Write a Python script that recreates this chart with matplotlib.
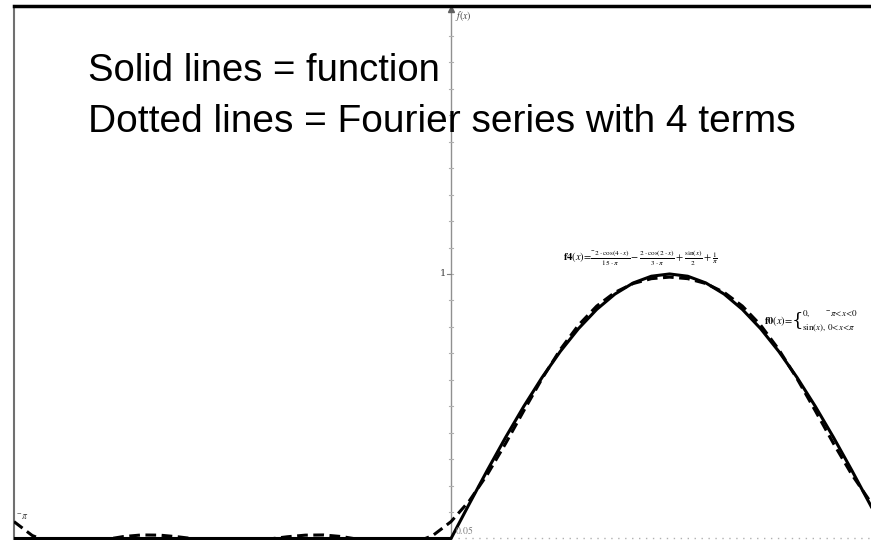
import matplotlib
matplotlib.use('Agg')
import matplotlib.pyplot as plt
import numpy as np

# x samples in radians (steps of pi/24), -pi .. pi
x_vals = [-3.1416, -3.0107, -2.8798, -2.7489, -2.6180, -2.4871, -2.3562, -2.2253,
          -2.0944, -1.9635, -1.8326, -1.7017, -1.5708, -1.4399, -1.3090, -1.1781,
          -1.0472, -0.9163, -0.7854, -0.6545, -0.5236, -0.3927, -0.2618, -0.1309,
          0.0,
          0.1309, 0.2618, 0.3927, 0.5236, 0.6545, 0.7854, 0.9163, 1.0472,
          1.1781, 1.3090, 1.4399, 1.5708, 1.7017, 1.8326, 1.9635, 2.0944,
          2.2253, 2.3562, 2.4871, 2.6180, 2.7489, 2.8798, 3.0107, 3.1416]

# f0: the function (0 for x<0, sin(x) for x>=0)
f0_vals = [0.0] * 24 + [
    0.0, 0.1305, 0.2588, 0.3827, 0.5000, 0.6088, 0.7071, 0.7934, 0.8660,
    0.9239, 0.9659, 0.9914, 1.0000, 0.9914, 0.9659, 0.9239, 0.8660,
    0.7934, 0.7071, 0.6088, 0.5000, 0.3827, 0.2588, 0.1305, 0.0]

# f4: Fourier series with 4 terms
f4_vals = [0.0637, 0.0113, -0.0161, -0.0231, -0.0166, -0.0042, 0.0072, 0.0133,
           0.0126, 0.0064, -0.0021, -0.0092, -0.0119, -0.0092, -0.0021, 0.0064,
           0.0126, 0.0133, 0.0072, -0.0042, -0.0166, -0.0231, -0.0161, 0.0113,
           0.0637,
           0.1418, 0.2427, 0.3596, 0.4834, 0.6045, 0.7143, 0.8067, 0.8786,
           0.9303, 0.9638, 0.9823, 0.9881, 0.9823, 0.9638, 0.9303, 0.8786,
           0.8067, 0.7143, 0.6045, 0.4834, 0.3596, 0.2427, 0.1418, 0.0637]

W, H = 871, 540
fig = plt.figure(figsize=(W / 100, H / 100), dpi=100)
plt.rcParams['mathtext.fontset'] = 'stix'
ax = fig.add_axes([14 / W, 0, (W - 14) / W, 534 / H])
ax.set_xlim(-np.pi, 3.019)
ax.set_ylim(-0.0057, 2.013)
ax.set_xticks([])
ax.set_yticks([])
for s in ['right', 'bottom']:
    ax.spines[s].set_visible(False)
ax.spines['top'].set_linewidth(2.5)
ax.spines['top'].set_color('black')
ax.spines['left'].set_linewidth(1.5)
ax.spines['left'].set_color('#707070')

# axes
ax.axvline(0, color='#909090', lw=1, zorder=1)
ax.plot([0], [2.0], marker='^', color='#606060', ms=4, zorder=1)
ax.plot([0, 3.1], [0, 0], color='#b0b0b0', lw=1, ls=(0, (1, 4)), zorder=1)
for yt in np.arange(0.1, 2.0, 0.1):
    ax.plot([-0.012, 0.012], [yt, yt], color='#b0b0b0', lw=0.8, zorder=1)
ax.plot([-0.03, 0.0], [1, 1], color='#808080', lw=0.8, zorder=1)

ax.plot(x_vals, f0_vals, color='black', lw=2.2, solid_capstyle='butt', zorder=3)
ax.plot(x_vals, f4_vals, color='black', lw=2.2, ls=(0, (3.5, 1.8)), zorder=4)

# texts
fig.text(88 / W, 1 - 71 / H, 'Solid lines = function', fontsize=27.5,
         family='Liberation Sans', va='center', ha='left')
fig.text(88 / W, 1 - 122 / H, 'Dotted lines = Fourier series with 4 terms', fontsize=28,
         family='Liberation Sans', va='center', ha='left')

fig.text(455 / W, 1 - 16 / H, r'$f(x)$', fontsize=7, color='#404040', va='center')
fig.text(446 / W, 1 - 274 / H, '1', fontsize=7, color='#404040', va='center', ha='right',
         family='DejaVu Serif')
fig.text(16 / W, 1 - 517 / H, r'$^{-}\pi$', fontsize=7, color='#404040', va='center')
fig.text(455 / W, 1 - 530 / H, r'$0.05$', fontsize=7, color='#808080', va='center')

f4_txt = (r'$\mathbf{f4}(x)\!=\!\frac{^{-}2\cdot\cos(4\cdot x)}{15\cdot\pi}'
          r'-\frac{2\cdot\cos(2\cdot x)}{3\cdot\pi}+\frac{\sin(x)}{2}+\frac{1}{\pi}$')
fig.text(563 / W, 1 - 258 / H, f4_txt, fontsize=7.5, va='center', ha='left')

fig.text(764 / W, 1 - 321 / H, r'$\mathbf{f0}(x)\!=$', fontsize=7.5, va='center', ha='left')
fig.text(792 / W, 1 - 320 / H, '{', fontsize=13, va='center', ha='left',
         family='DejaVu Serif', fontweight='light')
fig.text(802 / W, 1 - 314 / H, r'$0,\qquad\ ^{-}\pi\!<\!x\!<\!0$', fontsize=6.5,
         va='center', ha='left')
fig.text(802 / W, 1 - 328 / H, r'$\sin(x),\,0\!<\!x\!<\!\pi$', fontsize=6.5,
         va='center', ha='left')

fig.savefig('out.png', dpi=100)
